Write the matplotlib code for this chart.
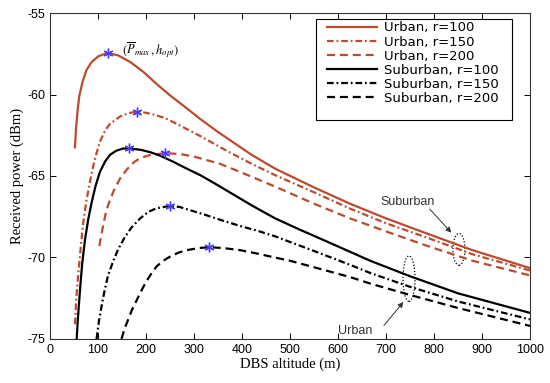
import matplotlib
matplotlib.use("Agg")
from matplotlib import pyplot as plt
from matplotlib.patches import Ellipse, Rectangle

# Received power (dBm) over DBS altitude (m)
urban_100_h = [52, 54, 57, 61, 68, 76, 87, 101, 120, 142, 167, 194, 222, 250, 285, 313, 350, 380, 420,
               469, 550, 625, 700, 787, 880, 1000]
urban_100_p = [-63.24, -62.2, -61.15, -60.1, -59.2, -58.5, -58.0, -57.65, -57.45, -57.6, -58.0, -58.6, -59.35,
               -60.05, -60.85, -61.5, -62.3, -62.9, -63.7, -64.55, -65.7, -66.7, -67.6, -68.55, -69.55, -70.65]

urban_150_h = [52, 55, 59, 64, 69, 76, 83, 90, 97, 104, 115, 125, 146, 163, 181, 200, 215, 240, 264, 313,
               368, 420, 469, 550, 625, 700, 787, 880, 1000]
urban_150_p = [-74.1, -72.4, -71.0, -69.4, -67.9, -66.5, -65.4, -64.4, -63.6, -62.9, -62.2, -61.8, -61.35,
               -61.15, -61.05, -61.12, -61.22, -61.45, -61.8, -62.55, -63.45, -64.25, -64.95, -66.0, -67.0,
               -67.9, -68.8, -69.8, -70.8]

urban_200_h = [103, 107, 111, 116, 121, 132, 139, 146, 160, 175, 188, 210, 240, 270, 299, 354, 400, 469,
               550, 625, 700, 787, 880, 1000]
urban_200_p = [-69.3, -68.6, -68.0, -67.3, -66.8, -65.95, -65.55, -65.15, -64.6, -64.15, -63.9, -63.7, -63.6,
               -63.65, -63.8, -64.25, -64.8, -65.65, -66.7, -67.6, -68.4, -69.3, -70.2, -71.1]

suburban_100_h = [55.6, 58, 62.5, 67, 73, 80, 87, 95, 104, 115, 125, 138, 152, 165, 190, 210, 229, 255, 285,
                  313, 340, 380, 420, 469, 521, 556, 625, 667, 750, 850, 1000]
suburban_100_p = [-75, -73.8, -72.0, -70.4, -68.9, -67.6, -66.6, -65.6, -64.75, -64.1, -63.7, -63.45, -63.32,
                  -63.3, -63.4, -63.55, -63.75, -64.1, -64.55, -64.95, -65.4, -66.1, -66.8, -67.6, -68.3,
                  -68.75, -69.65, -70.2, -71.15, -72.2, -73.4]

suburban_150_h = [97, 102, 108, 114, 121, 132, 142, 155, 170, 188, 205, 222, 249, 270, 292, 325, 361, 400,
                  431, 469, 500, 550, 625, 667, 750, 850, 1000]
suburban_150_p = [-75, -73.9, -72.9, -72.0, -71.1, -70.2, -69.5, -68.8, -68.15, -67.6, -67.2, -66.98, -66.84,
                  -66.9, -67.1, -67.4, -67.75, -68.1, -68.35, -68.7, -69.05, -69.6, -70.45, -70.95, -71.8,
                  -72.7, -73.8]

suburban_200_h = [149, 155, 163, 171, 181, 191, 201, 212, 222, 236, 250, 268, 285, 310, 332, 360, 396, 430,
                  465, 500, 550, 625, 667, 750, 850, 1000]
suburban_200_p = [-75, -74.4, -73.8, -73.2, -72.6, -72.0, -71.45, -70.95, -70.55, -70.2, -69.95, -69.7, -69.55,
                  -69.42, -69.37, -69.42, -69.55, -69.75, -69.98, -70.2, -70.6, -71.2, -71.6, -72.3, -73.1,
                  -74.2]

# Optimal altitude markers (h_opt, P_max)
peak_h = [120, 181, 240, 165, 249, 332]
peak_p = [-57.45, -61.05, -63.6, -63.3, -66.84, -69.37]

labels = ["Urban, r=100", "Urban, r=150", "Urban, r=200",
          "Suburban, r=100", "Suburban, r=150", "Suburban, r=200"]

red = "#bb4b2f"
dashdot = (0, (3.0, 1.3, 0.8, 1.3))
dashed = (0, (3.6, 2.2))

plt.rcParams["axes.unicode_minus"] = False
plt.rcParams["mathtext.fontset"] = "stix"

fig = plt.figure(figsize=(5.5, 3.83), dpi=100)
ax = fig.add_axes([0.0909, 0.115, 0.8727, 0.851])

series = [
    (urban_100_h, urban_100_p, red, "-"),
    (urban_150_h, urban_150_p, red, dashdot),
    (urban_200_h, urban_200_p, red, dashed),
    (suburban_100_h, suburban_100_p, "black", "-"),
    (suburban_150_h, suburban_150_p, "black", dashdot),
    (suburban_200_h, suburban_200_p, "black", dashed),
]
for (h, p, col, ls), lab in zip(series, labels):
    ax.plot(h, p, color=col, linestyle=ls, linewidth=1.6, label=lab)

ax.plot(peak_h, peak_p, linestyle="none", marker=(6, 2, 0), markersize=7,
        color="#4a3cf5", markeredgewidth=1.0)

ax.set_xlim(0, 1000)
ax.set_ylim(-75, -55)
ax.set_xticks(range(0, 1001, 100))
ax.set_yticks(range(-75, -54, 5))
ax.tick_params(direction="in", top=True, right=True, length=4, width=0.7, labelsize=9)
for t in ax.get_xticklabels() + ax.get_yticklabels():
    t.set_fontfamily("Liberation Sans")
for s in ax.spines.values():
    s.set_linewidth(0.8)
    s.set_color("#333333")

ax.set_xlabel("DBS altitude (m)", fontfamily="Liberation Serif", fontsize=10.5, labelpad=1)
ax.set_ylabel("Received power (dBm)", fontfamily="Liberation Serif", fontsize=10.5, labelpad=2)

# Legend box drawn separately so the padding matches the original
ax.add_patch(Rectangle((0.554, 0.672), 0.408, 0.31, transform=ax.transAxes, facecolor="white",
                       edgecolor="black", linewidth=0.8, zorder=4))
leg = ax.legend(loc="upper left", bbox_to_anchor=(0.577, 0.974), borderaxespad=0, borderpad=0,
                prop={"family": "DejaVu Sans", "size": 9.5}, handlelength=3.8, handletextpad=0.55,
                labelspacing=0.08, frameon=False)
leg.set_zorder(5)

ax.text(150, -57.27, r"$(\overline{P}_{max}\,,h_{opt})$", fontsize=9, ha="left", va="center")

# Annotations with dotted ellipses
ax.add_patch(Ellipse((852, -69.5), 25, 1.96, fill=False, linestyle=(0, (1, 1.5)), linewidth=0.9, color="black"))
ax.add_patch(Ellipse((748, -71.3), 25, 2.8, fill=False, linestyle=(0, (1, 1.5)), linewidth=0.9, color="black"))
ax.annotate("", xy=(840, -68.6), xytext=(787, -66.9),
            arrowprops=dict(arrowstyle="-|>", color="#333333", lw=0.7, mutation_scale=8))
ax.annotate("", xy=(740, -72.6), xytext=(692, -74.3),
            arrowprops=dict(arrowstyle="-|>", color="#333333", lw=0.7, mutation_scale=8))
ax.text(688, -66.6, "Suburban", fontfamily="Liberation Sans", fontsize=9, color="#333333",
        ha="left", va="center")
ax.text(600, -74.5, "Urban", fontfamily="Liberation Sans", fontsize=9, color="#333333",
        ha="left", va="center")

fig.savefig("out.png", dpi=100)
